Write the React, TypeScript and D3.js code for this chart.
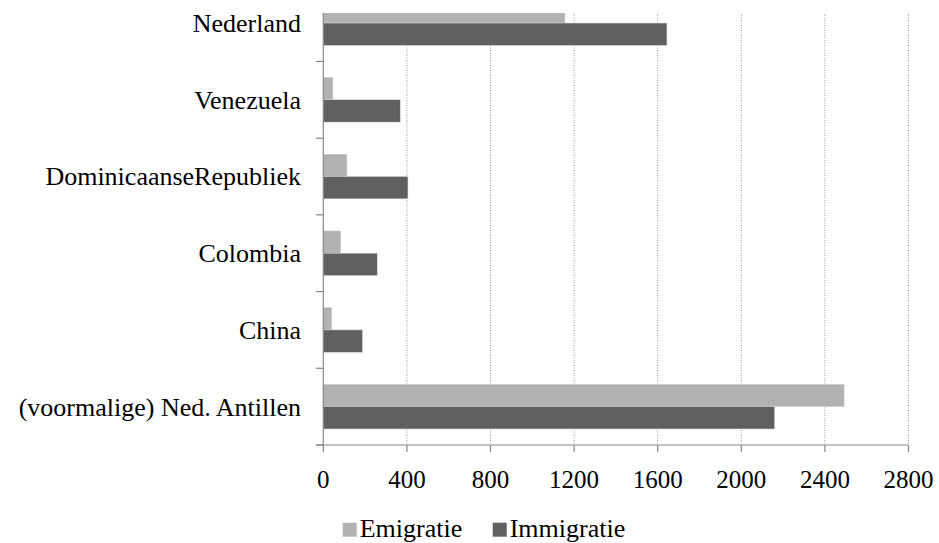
import React from "react";
import * as d3 from "d3";

const categories = [
  "Nederland",
  "Venezuela",
  "DominicaanseRepubliek",
  "Colombia",
  "China",
  "(voormalige) Ned. Antillen",
];
const seriesNames = ["Emigratie", "Immigratie"];
const emigratie = [1156, 46, 113, 83, 40, 2492];
const immigratie = [1644, 368, 405, 258, 187, 2159];
const xTicks = [0, 400, 800, 1200, 1600, 2000, 2400, 2800];
const colors = ["#b2b2b2", "#606060"];

export default function App() {
  const W = 939, H = 543;
  const x = d3.scaleLinear().domain([0, 2800]).range([323.3, 908.5]);
  const y = d3
    .scaleBand<string>()
    .domain(categories)
    .range([-15.3, 445])
    .paddingInner(0.418)
    .paddingOuter(0.209);
  const inner = d3.scaleBand<string>().domain(seriesNames).range([0, y.bandwidth()]);
  const values = [emigratie, immigratie];
  const font = "Liberation Serif, DejaVu Serif, serif";
  const axisColor = "#868686";
  const step = y.step();
  const sepYs = categories.map((_, i) => 445 - i * step);
  const textStyle = { fontFamily: font };

  return (
    <div style={{ position: "absolute", left: 0, top: 0 }}>
      <svg width={W} height={H} style={{ display: "block", background: "#fff" }}>
        <defs>
          <clipPath id="plotclip">
            <rect x={300} y={13} width={640} height={445 - 13 + 10} />
          </clipPath>
        </defs>
        <g clipPath="url(#plotclip)">
          {xTicks.slice(1).map((t) => (
            <line
              key={t}
              x1={x(t)}
              x2={x(t)}
              y1={0}
              y2={445}
              stroke="#9a9a9a"
              strokeWidth={1}
              strokeDasharray="1,1.5"
            />
          ))}
          {categories.map((c, i) =>
            seriesNames.map((s, j) => (
              <rect
                key={c + s}
                x={x(0)}
                y={(y(c) as number) + (inner(s) as number)}
                width={x(values[j][i]) - x(0)}
                height={inner.bandwidth()}
                fill={colors[j]}
                stroke="#d0d0d0"
                strokeWidth={0.5}
              />
            ))
          )}
          <line x1={x(0)} x2={x(0)} y1={0} y2={445} stroke={axisColor} strokeWidth={1.2} />
          {sepYs.map((sy, i) => (
            <line key={i} x1={316} x2={x(0)} y1={sy} y2={sy} stroke={axisColor} strokeWidth={1.2} />
          ))}
        </g>
        <line x1={316} x2={x(2800)} y1={445} y2={445} stroke={axisColor} strokeWidth={1.2} />
        {xTicks.map((t) => (
          <g key={t}>
            <line x1={x(t)} x2={x(t)} y1={445} y2={452} stroke={axisColor} strokeWidth={1.2} />
            <text x={x(t)} y={488} textAnchor="middle" style={textStyle} fontSize={25} fill="#000">
              {t}
            </text>
          </g>
        ))}
        {categories.map((c) => (
          <text
            key={c}
            x={301}
            y={(y(c) as number) + y.bandwidth() / 2 + 9}
            textAnchor="end"
            style={textStyle}
            fontSize={26}
            fill="#000"
          >
            {c}
          </text>
        ))}
        {seriesNames.map((s, j) => {
          const lx = [342.7, 492.7][j];
          return (
            <g key={s}>
              <rect x={lx} y={522.7} width={14} height={14} fill={colors[j]} />
              <text x={lx + 17} y={537.3} style={textStyle} fontSize={26} fill="#000">
                {s}
              </text>
            </g>
          );
        })}
      </svg>
    </div>
  );
}
